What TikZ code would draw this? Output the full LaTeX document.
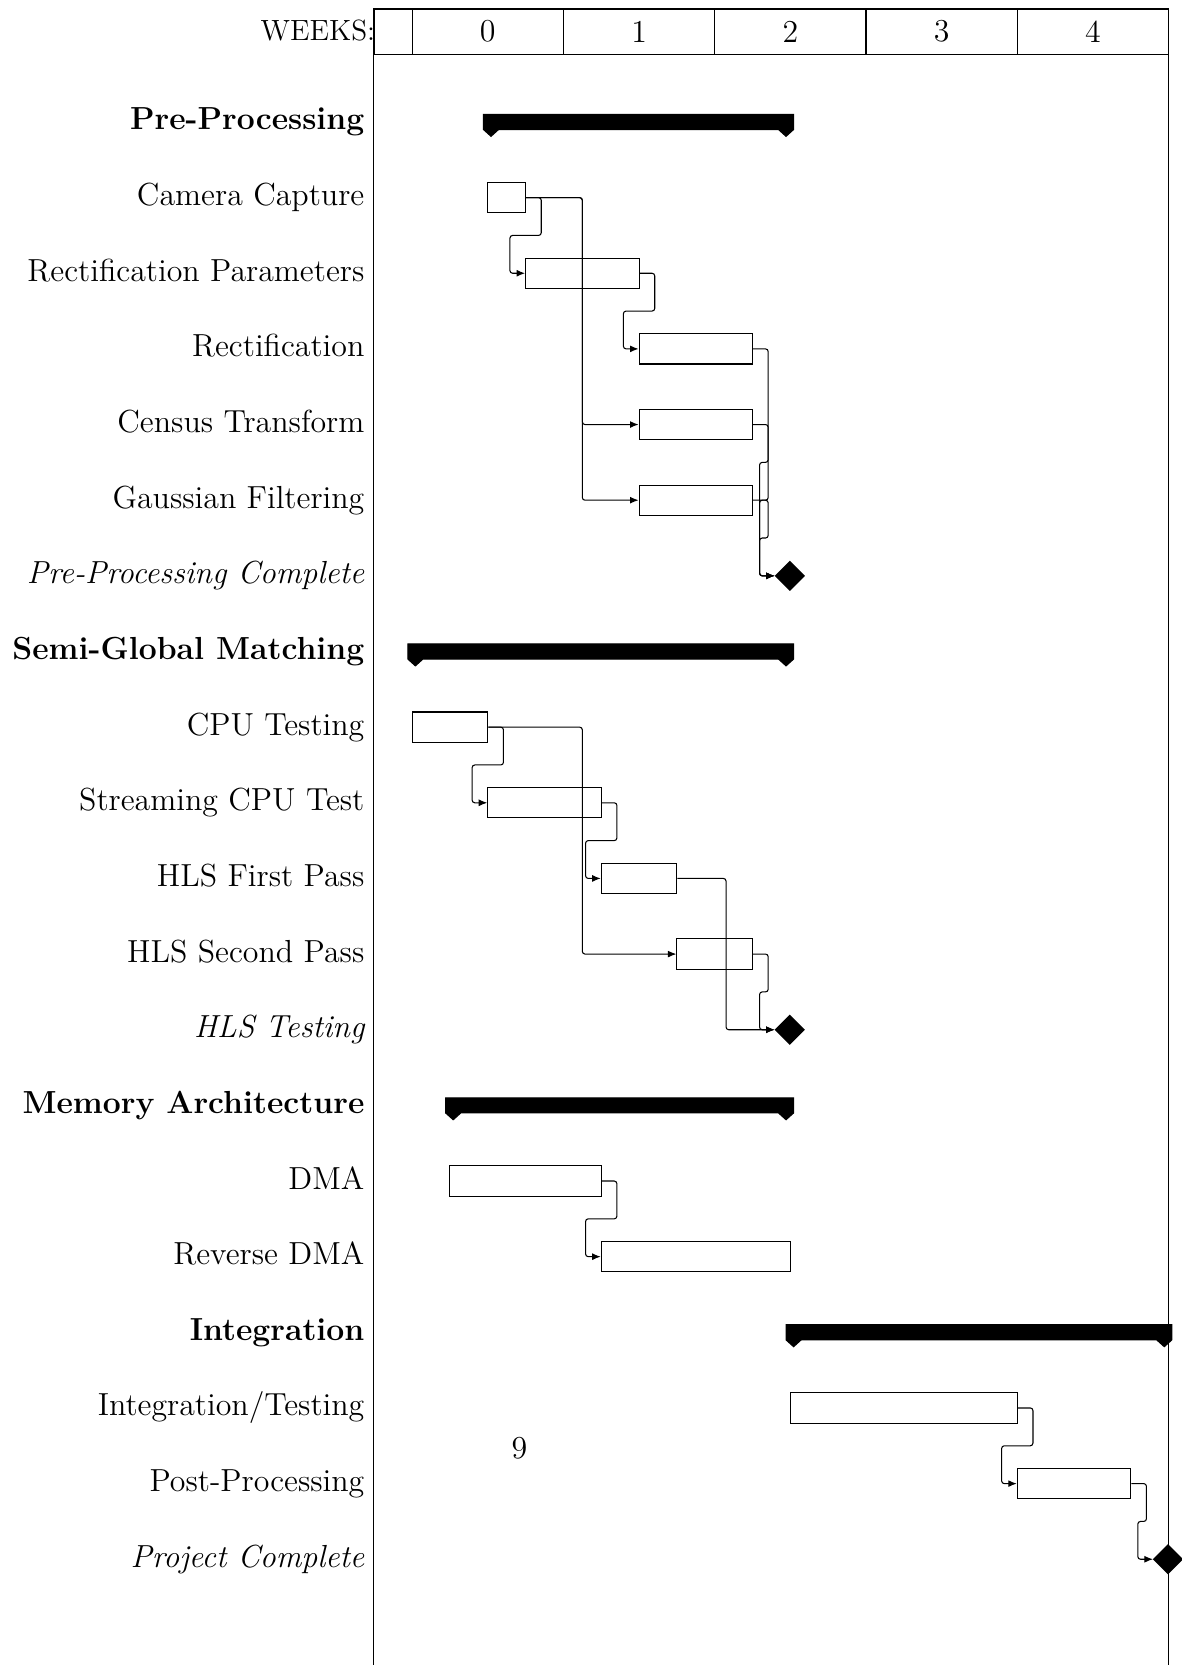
\documentclass[tikz,border=0pt]{standalone}
\usetikzlibrary{arrows.meta,shapes.geometric,calc}
\newcommand\bulgelink[2]{\draw[lnk] let \p1=(#1.east), \p2=(#2.west) in
  (\p1) -- (\x1+0.2cm,\y1) -- (\x1+0.2cm,{0.5*\y1+0.5*\y2}) -- (\x2-0.2cm,{0.5*\y1+0.5*\y2}) -- (\x2-0.2cm,\y2) -- (\p2);}
\newcommand\widelink[2]{\draw[lnk] let \p1=(#1.east), \p2=(#2.west) in
  (\p1) -- ({0.5*\x1+0.5*\x2},\y1) -- ({0.5*\x1+0.5*\x2},\y2) -- (\p2);}
\newcommand\groupbar[4]{% name, x0, x1, y
  \fill[draw=black,line width=0.4pt] (#2-0.1,#4+0.1) -- (#3+0.1,#4+0.1) -- (#3+0.1,#4-0.1) -- (#3-0.1,#4-0.19) -- (#3-0.3,#4-0.1)
    -- (#2+0.3,#4-0.1) -- (#2+0.1,#4-0.19) -- (#2-0.1,#4-0.1) -- cycle;
  \coordinate (#1) at (#2,#4);}
\begin{document}
\begin{tikzpicture}[x=0.5cm,y=1cm,
  titlecell/.style={draw, line width=0.4pt, minimum height=0.6cm, anchor=north west, inner sep=0, font=\large},
  taskbar/.style={draw, line width=0.4pt, fill=white, minimum height=0.4cm, anchor=west, inner sep=0},
  rowlbl/.style={anchor=east, text height=8.4pt, text depth=2.4pt},
  grouplbl/.style={rowlbl, font=\large\bfseries},
  tasklbl/.style={rowlbl, font=\large},
  mslbl/.style={rowlbl, font=\large\itshape},
  lnk/.style={-{Latex[length=3.2pt,width=2.6pt]}, rounded corners=1pt, line width=0.4pt},
  msshape/.style={diamond, fill=black, minimum width=0.4cm, minimum height=0.4cm, inner sep=0, outer sep=0},
]
\useasboundingbox (-9.882,0.112) rectangle (21.364,-21.898);
% frame
\draw[line width=0.4pt] (0,0) -- (0,-21.898);
\draw[line width=0.4pt] (21,0) -- (21,-21.898);
% header
\node[titlecell, minimum width=0.5cm] (t0) at (0,0) {};
\node[titlecell, minimum width=2cm] (t1) at (1,0) {0};
\node[titlecell, minimum width=2cm] (t2) at (5,0) {1};
\node[titlecell, minimum width=2cm] (t3) at (9,0) {2};
\node[titlecell, minimum width=2cm] (t4) at (13,0) {3};
\node[titlecell, minimum width=2cm] (t5) at (17,0) {4};
\node[anchor=east, inner sep=0, font=\fontsize{11}{13}\selectfont] (weeks) at (0.05,-0.29) {WEEKS:};

% labels
\node[grouplbl] (l1) at (0,-1.5) {Pre-Processing};
\node[tasklbl] (l2) at (0,-2.5) {Camera Capture};
\node[tasklbl] (l3) at (0,-3.5) {Rectification Parameters};
\node[tasklbl] (l4) at (0,-4.5) {Rectification};
\node[tasklbl] (l5) at (0,-5.5) {Census Transform};
\node[tasklbl] (l6) at (0,-6.5) {Gaussian Filtering};
\node[mslbl] (l7) at (0,-7.5) {Pre-Processing Complete};
\node[grouplbl] (l8) at (0,-8.5) {Semi-Global Matching};
\node[tasklbl] (l9) at (0,-9.5) {CPU Testing};
\node[tasklbl] (l10) at (0,-10.5) {Streaming CPU Test};
\node[tasklbl] (l11) at (0,-11.5) {HLS First Pass};
\node[tasklbl] (l12) at (0,-12.5) {HLS Second Pass};
\node[mslbl] (l13) at (0,-13.5) {HLS Testing};
\node[grouplbl] (l14) at (0,-14.5) {Memory Architecture};
\node[tasklbl] (l15) at (0,-15.5) {DMA};
\node[tasklbl] (l16) at (0,-16.5) {Reverse DMA};
\node[grouplbl] (l17) at (0,-17.5) {Integration};
\node[tasklbl] (l18) at (0,-18.5) {Integration/Testing};
\node[tasklbl] (l19) at (0,-19.5) {Post-Processing};
\node[mslbl] (l20) at (0,-20.5) {Project Complete};

% groups
\groupbar{g1}{3}{11}{-1.5}
\groupbar{g2}{1}{11}{-8.5}
\groupbar{g3}{2}{11}{-14.5}
\groupbar{g4}{11}{21}{-17.5}

% tasks
\node[taskbar, minimum width=0.5cm] (cc) at (3,-2.5) {};
\node[taskbar, minimum width=1.5cm] (rp) at (4,-3.5) {};
\node[taskbar, minimum width=1.5cm] (rect) at (7,-4.5) {};
\node[taskbar, minimum width=1.5cm] (ct) at (7,-5.5) {};
\node[taskbar, minimum width=1.5cm] (gf) at (7,-6.5) {};
\node[msshape] (ms1) at (11,-7.5) {};

\node[taskbar, minimum width=1cm] (cpu) at (1,-9.5) {};
\node[taskbar, minimum width=1.5cm] (scpu) at (3,-10.5) {};
\node[taskbar, minimum width=1cm] (hls1) at (6,-11.5) {};
\node[taskbar, minimum width=1cm] (hls2) at (8,-12.5) {};
\node[msshape] (ms2) at (11,-13.5) {};

\node[taskbar, minimum width=2cm] (dma) at (2,-15.5) {};
\node[taskbar, minimum width=2.5cm] (rdma) at (6,-16.5) {};

\node[taskbar, minimum width=3cm] (integ) at (11,-18.5) {};
\node[taskbar, minimum width=1.5cm] (post) at (17,-19.5) {};
\node[msshape] (ms3) at (21,-20.5) {};

% links
\bulgelink{cc}{rp}
\widelink{cc}{ct}
\widelink{cc}{gf}
\bulgelink{rp}{rect}
\bulgelink{rect}{ms1}
\bulgelink{ct}{ms1}
\bulgelink{gf}{ms1}

\bulgelink{cpu}{scpu}
\widelink{cpu}{hls2}
\bulgelink{scpu}{hls1}
\widelink{hls1}{ms2}
\bulgelink{hls2}{ms2}

\bulgelink{dma}{rdma}

\bulgelink{integ}{post}
\bulgelink{post}{ms3}

% page number
\node[font=\large] (pnum) at (3.85,-19.03) {9};
\end{tikzpicture}
\end{document}
